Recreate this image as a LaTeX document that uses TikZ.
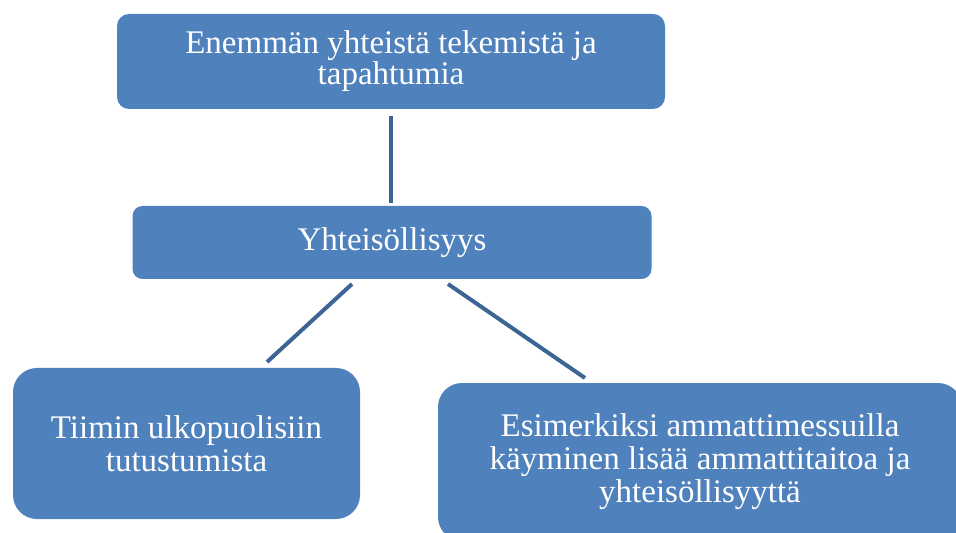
\documentclass[tikz,border=0pt]{standalone}
\usepackage{fontspec}
\setmainfont{Liberation Serif}
\definecolor{boxblue}{RGB}{79,129,189}
\definecolor{lineblue}{RGB}{60,100,148}

\begin{document}
\begin{tikzpicture}[x=0.5pt,y=-0.5pt,
  box/.style={rectangle,rounded corners=6pt,fill=boxblue,text=white,align=center,inner sep=0pt,font=\fontsize{16.5}{15.5}\selectfont},
  link/.style={draw=lineblue,line width=2pt}]
\useasboundingbox (0,0) rectangle (956,533);
\clip (0,0) rectangle (956,533);
\node[box,minimum width=274pt,minimum height=47.5pt] at (391,61.5) (T) {Enemmän yhteistä tekemistä ja\\tapahtumia};
\node[box,minimum width=259.5pt,minimum height=36.5pt,rounded corners=5pt] at (392,242.5) (M) {Yhteisöllisyys};
\node[box,minimum width=173.5pt,minimum height=75.5pt,rounded corners=12pt,font=\fontsize{16.5}{16.5}\selectfont] at (186.5,443.5) (L) {Tiimin ulkopuolisiin\\tutustumista};
\node[box,minimum width=262pt,minimum height=79pt,rounded corners=12pt,font=\fontsize{16.5}{16.5}\selectfont] at (700,462) (R) {Esimerkiksi ammattimessuilla\\käyminen lisää ammattitaitoa ja\\yhteisöllisyyttä};
\coordinate (ML) at (352,284);
\coordinate (MR) at (448,284);
\coordinate (LT) at (267,362);
\coordinate (RT) at (585,378);
\draw[link,shorten <=3.5pt,shorten >=1.5pt] (T.south) -- (T.south |- M.north);
\draw[link] (ML) -- (LT);
\draw[link] (MR) -- (RT);
\end{tikzpicture}
\end{document}
